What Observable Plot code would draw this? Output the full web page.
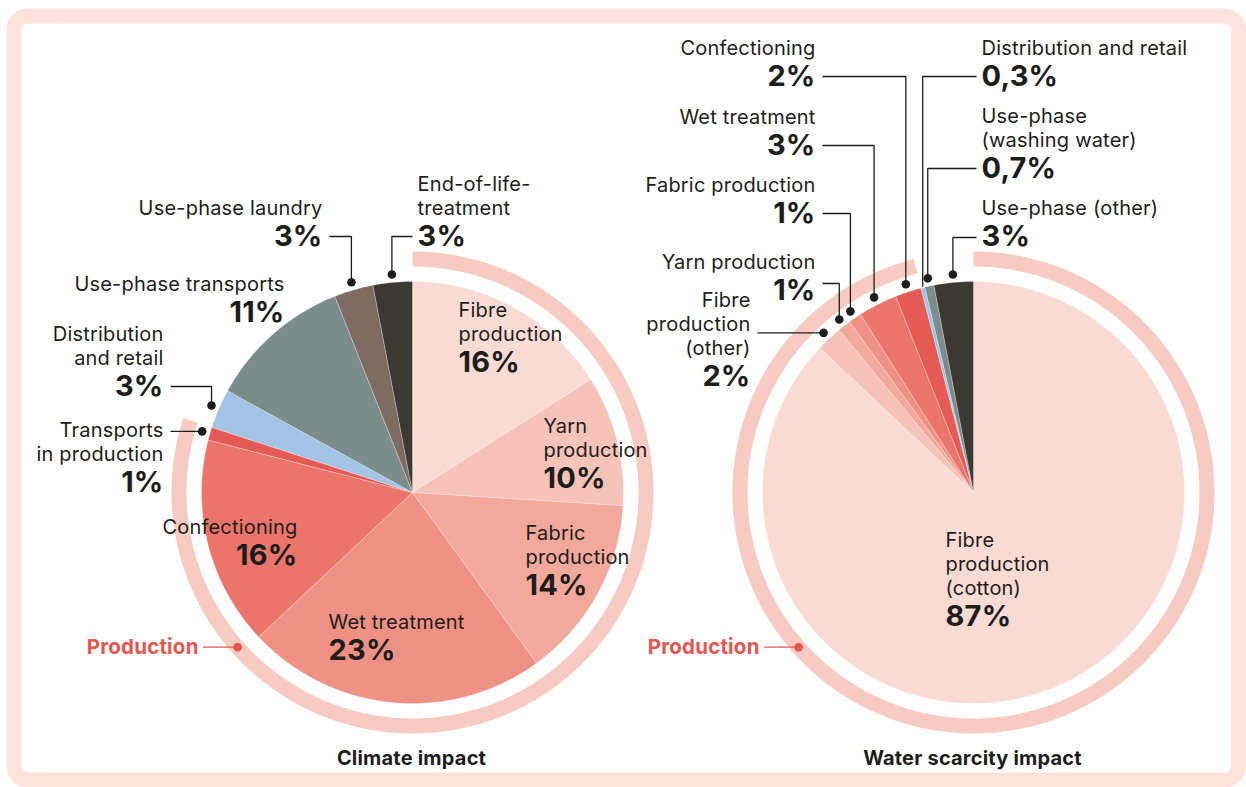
<!DOCTYPE html>
<html><head><meta charset="utf-8">
<script src="https://cdn.jsdelivr.net/npm/d3@7"></script>
<script src="https://cdn.jsdelivr.net/npm/@observablehq/plot@0.6"></script>
<style>
html,body{margin:0;padding:0;background:#fff;}
#chart svg{display:block;}
#chart svg text{letter-spacing:0.2px;}
</style></head><body><div id="chart"></div>
<script>
// ---------------- DATA ----------------
const climateCategories = ["Fibre production","Yarn production","Fabric production","Wet treatment","Confectioning","Transports in production","Distribution and retail","Use-phase transports","Use-phase laundry","End-of-life-treatment"];
const climateValues = [16,10,14,23,16,1,3,11,3,3];
const climateStages = ["Production","Production","Production","Production","Production","Production","Distribution","Use","Use","End"];

const waterCategories = ["Fibre production (cotton)","Fibre production (other)","Yarn production","Fabric production","Wet treatment","Confectioning","Distribution and retail","Use-phase (washing water)","Use-phase (other)"];
const waterValues = [87,2,1,1,3,2,0.3,0.7,3];
const waterStages = ["Production","Production","Production","Production","Production","Production","Distribution","Use","Use"];

const chartTitles = ["Climate impact","Water scarcity impact"];
const groupLabel = "Production";

// label text as displayed (line breaks)
const climateLabelLines = [["Fibre","production"],["Yarn","production"],["Fabric","production"],["Wet treatment"],["Confectioning"],["Transports","in production"],["Distribution","and retail"],["Use-phase transports"],["Use-phase laundry"],["End-of-life-","treatment"]];
const waterLabelLines = [["Fibre","production","(cotton)"],["Fibre","production","(other)"],["Yarn production"],["Fabric production"],["Wet treatment"],["Confectioning"],["Distribution and retail"],["Use-phase","(washing water)"],["Use-phase (other)"]];

// ---------------- STYLE / LAYOUT ----------------
const climateColors = ["#f9dbd4","#f6c3b9","#f2a99c","#ee9084","#eb756b","#e65a56","#a2c3e4","#7a8c8c","#7e6b62","#3c3832"];
const waterColors = ["#f9dbd4","#f6c3b9","#f2a99c","#ee9084","#eb756b","#e65a56","#a2c3e4","#7a8c8c","#3c3832"];
const ink = "#1d1d1b", red = "#e8554f", ringColor = "#f7cbc1", frameColor = "#fde3dc";

const climateLayout = [
  {x:458,y:310,anchor:"start",leader:null},
  {x:543,y:426,anchor:"start",leader:null},
  {x:525,y:533,anchor:"start",leader:null},
  {x:328,y:622,anchor:"start",leader:null},
  {x:297,y:527,anchor:"end",leader:null},
  {x:163,y:430,anchor:"end",leader:430},
  {x:163,y:334,anchor:"end",leader:386},
  {x:284,y:284,anchor:"end",leader:null},
  {x:322,y:208,anchor:"end",leader:236},
  {x:417,y:184,anchor:"start",leader:236}
];
const waterLayout = [
  {x:945,y:540,anchor:"start",leader:null},
  {x:750,y:300,anchor:"end",leader:333},
  {x:815,y:262,anchor:"end",leader:283},
  {x:815,y:185,anchor:"end",leader:213},
  {x:815,y:117,anchor:"end",leader:145},
  {x:815,y:48,anchor:"end",leader:76},
  {x:981,y:48,anchor:"start",leader:76,noDot:true},
  {x:981,y:116,anchor:"start",leader:168},
  {x:981,y:208,anchor:"start",leader:237}
];

const W = 1246, H = 787;
const R = 211, dotR = 219, ringR = 233.5, ringW = 15;
const lineH = 24, pctGap = 28.5;
const pies = [
  {cx:412, cy:492, cats:climateCategories, vals:climateValues, stages:climateStages, colors:climateColors, lines:climateLabelLines, layout:climateLayout, title:chartTitles[0]},
  {cx:973, cy:492, cats:waterCategories, vals:waterValues, stages:waterStages, colors:waterColors, lines:waterLabelLines, layout:waterLayout, title:chartTitles[1]}
];

const fmtPct = v => String(v).replace(".", ",") + "%";
const toRad = d => d * Math.PI / 180;
const pt = (cx, cy, r, deg) => ({x: cx + r * Math.sin(toRad(deg)), y: cy - r * Math.cos(toRad(deg))});
function arc(cx, cy, r, a0, a1) {
  const n = Math.max(2, Math.ceil((a1 - a0) / 0.5));
  return d3.range(n + 1).map(i => pt(cx, cy, r, a0 + (a1 - a0) * i / n));
}

const sliceRows = [], ringRows = [], leaderRows = [], dotRows = [], nameRows = [], pctRows = [];
const prodLineRows = [], prodDotRows = [], prodTextRows = [], titleRows = [];

pies.forEach((p, pi) => {
  const total = d3.sum(p.vals);
  let acc = 0;
  p.vals.forEach((v, i) => {
    const a0 = acc / total * 360, a1 = (acc + v) / total * 360;
    acc += v;
    const key = `s${pi}-${i}`;
    const c = {x: p.cx, y: p.cy};
    [c, ...arc(p.cx, p.cy, R, a0, a1), c].forEach(q => sliceRows.push({key, x: q.x, y: q.y, color: p.colors[i]}));
    const L = p.layout[i];
    p.lines[i].forEach((t, k) => nameRows.push({x: L.x, y: L.y + k * lineH, text: t, anchor: L.anchor}));
    pctRows.push({x: L.x, y: L.y + (p.lines[i].length - 1) * lineH + pctGap, text: fmtPct(v), anchor: L.anchor});
    if (L.leader != null) {
      const mid = (a0 + a1) / 2;
      const d = L.noDot ? pt(p.cx, p.cy, R + 1, mid) : pt(p.cx, p.cy, dotR, mid);
      const x0 = L.anchor === "end" ? L.x + 7 : L.x - 5;
      let ly = L.leader;
      if (Math.abs(ly - d.y) < 3) ly = d.y;
      const lk = `l${pi}-${i}`;
      [{x: x0, y: ly}, {x: d.x, y: ly}, {x: d.x, y: d.y}].forEach(q => leaderRows.push({key: lk, ...q}));
      if (!L.noDot) dotRows.push(d);
    }
  });
  const prodTotal = d3.sum(p.vals.filter((v, i) => p.stages[i] === "Production"));
  arc(p.cx, p.cy, ringR, 0, prodTotal / total * 360).forEach(q => ringRows.push({key: `r${pi}`, ...q}));
  const pd = pt(p.cx, p.cy, ringR, 228.5);
  prodDotRows.push(pd);
  prodLineRows.push({key: `p${pi}`, x: pd.x - 34, y: pd.y}, {key: `p${pi}`, x: pd.x, y: pd.y});
  prodTextRows.push({x: pd.x - 39, y: pd.y, text: groupLabel});
  titleRows.push({x: p.cx - 1, y: 758, text: p.title});
});

const font = "Inter, 'Noto Sans', sans-serif";
const byAnchor = (rows, a) => rows.filter(d => d.anchor === a);
const nameOpts = a => ({x: "x", y: "y", text: "text", textAnchor: a, fill: ink, fontSize: 20, fontWeight: 400, fontFamily: font});
const pctOpts = a => ({x: "x", y: "y", text: "text", textAnchor: a, fill: ink, fontSize: 29, fontWeight: 700, fontFamily: font});

const chart = Plot.plot({
  width: W, height: H, margin: 0,
  x: {domain: [0, W], range: [0, W], axis: null},
  y: {domain: [0, H], range: [0, H], axis: null},
  color: {type: "identity"},
  style: {fontFamily: font, background: "white"},
  marks: [
    Plot.frame({stroke: frameColor, strokeWidth: 15, insetLeft: 13.5, insetRight: 8, insetTop: 15.5, insetBottom: 7.5, rx: 14}),
    Plot.line(ringRows, {x: "x", y: "y", z: "key", stroke: ringColor, strokeWidth: ringW, strokeLinecap: "butt", curve: "linear"}),
    Plot.line(sliceRows, {x: "x", y: "y", z: "key", fill: "color", stroke: "white", strokeWidth: 0.6, strokeOpacity: 0.45, strokeLinejoin: "miter", curve: "linear"}),
    Plot.line(leaderRows, {x: "x", y: "y", z: "key", stroke: ink, strokeWidth: 1.3, strokeLinejoin: "miter", strokeLinecap: "butt", curve: "linear"}),
    Plot.dot(dotRows, {x: "x", y: "y", r: 4.3, fill: ink, stroke: null}),
    Plot.line(prodLineRows, {x: "x", y: "y", z: "key", stroke: red, strokeWidth: 1.3, curve: "linear"}),
    Plot.dot(prodDotRows, {x: "x", y: "y", r: 4.3, fill: red, stroke: null}),
    Plot.text(prodTextRows, {x: "x", y: "y", text: "text", textAnchor: "end", fill: red, fontSize: 20.5, fontWeight: 700, fontFamily: font}),
    Plot.text(byAnchor(nameRows, "start"), nameOpts("start")),
    Plot.text(byAnchor(nameRows, "end"), nameOpts("end")),
    Plot.text(byAnchor(pctRows, "start"), pctOpts("start")),
    Plot.text(byAnchor(pctRows, "end"), pctOpts("end")),
    Plot.text(titleRows, {x: "x", y: "y", text: "text", fill: ink, fontSize: 20, fontWeight: 700, fontFamily: font})
  ]
});
document.getElementById("chart").appendChild(chart);
</script></body></html>
